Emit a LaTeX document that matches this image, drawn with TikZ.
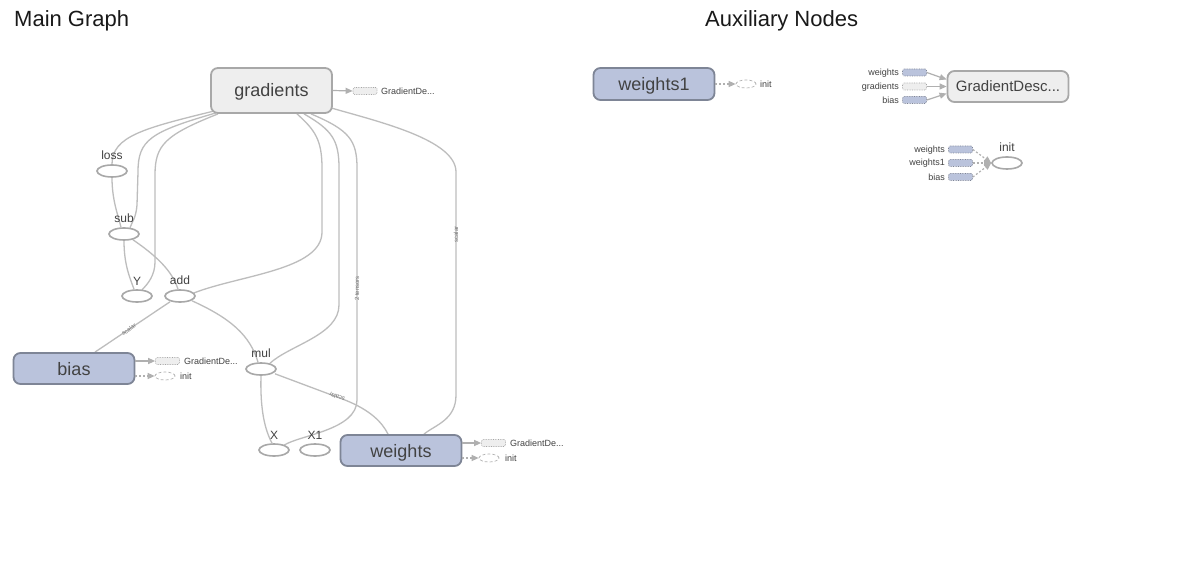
\documentclass[tikz,border=0pt]{standalone}
\usepackage{fontspec}
\setmainfont{Liberation Sans}
\usetikzlibrary{shapes.geometric,arrows.meta,calc,backgrounds}
\definecolor{bfill}{HTML}{BAC3DC}
\definecolor{bline}{HTML}{7E8596}
\definecolor{gfill}{HTML}{EEEEEE}
\definecolor{gline}{HTML}{A8A8A8}
\definecolor{eline}{HTML}{BDBDBD}
\definecolor{txt}{HTML}{424242}
\definecolor{sline}{HTML}{B0B0B0}
\tikzset{
  bignode/.style={rectangle, rounded corners=7pt, line width=1.8pt, text=txt,
    minimum width=121pt, inner sep=0pt, text height=13pt, text depth=0pt,
    font=\fontsize{18}{20}\selectfont},
  graynode/.style={bignode, fill=gfill, draw=gline},
  bluenode/.style={bignode, fill=bfill, draw=bline},
  opnode/.style={ellipse, draw=gline, fill=white, line width=1.6pt,
    minimum width=30pt, minimum height=12pt, inner sep=0pt},
  lbl/.style={text=txt, font=\fontsize{12}{14}\selectfont, inner sep=0pt},
  tiny/.style={text=txt, font=\fontsize{9}{10}\selectfont, inner sep=0pt},
  elbl/.style={text=black!55, font=\fontsize{6}{7}\selectfont, inner sep=0pt},
  edge/.style={draw=eline, line width=1.3pt},
  sbox/.style={rectangle, rounded corners=1.5pt, minimum width=24pt,
    minimum height=7pt, inner sep=0pt, line width=0.7pt, densely dotted},
  sbgray/.style={sbox, fill=gfill, draw=black!35},
  sbblue/.style={sbox, fill=bfill, draw=bline},
  sell/.style={ellipse, draw=black!30, fill=white, densely dashed,
    line width=0.7pt, minimum width=20pt, minimum height=8pt, inner sep=0pt},
  sarrow/.style={draw=sline, line width=1.2pt, -{Triangle[length=7pt,width=6pt]}},
  darrow/.style={draw=sline, line width=1.2pt, dash pattern=on 2pt off 2pt,
    -{Triangle[length=7pt,width=6pt]}},
}
\begin{document}
\begin{tikzpicture}[x=1pt,y=-1pt]
\useasboundingbox (0,0) rectangle (1185,569);

% titles
\node[anchor=base west, inner sep=0pt, text=black!90, font=\fontsize{22}{26}\selectfont] (t1) at (14,27) {Main Graph};
\node[anchor=base west, inner sep=0pt, text=black!90, font=\fontsize{22}{26}\selectfont] (t2) at (705,27) {Auxiliary Nodes};

% main nodes
\node[graynode, minimum height=45pt] (gradients) at (271.5,90.5) {gradients};
\node[bluenode, minimum height=31pt] (bias) at (74,368.5) {bias};
\node[bluenode, minimum height=31pt] (weights) at (401,450.5) {weights};

\node[opnode, label={[lbl,label distance=4pt]above:loss}] (loss) at (112,171) {};
\node[opnode, label={[lbl,label distance=4pt]above:sub}] (sub) at (124,234) {};
\node[opnode, label={[lbl,label distance=4pt]above:Y}] (Y) at (137,296) {};
\node[opnode, label={[lbl,label distance=4pt]above:add}] (add) at (180,296) {};
\node[opnode, label={[lbl,label distance=4pt]above:mul}] (mul) at (261,369) {};
\node[opnode, label={[lbl,label distance=4pt]above:X}] (X) at (274,450) {};
\node[opnode, label={[lbl,label distance=4pt]above:X1}] (X1) at (315,450) {};

\begin{scope}[on background layer]
\fill[white] (0,0) rectangle (1185,569);
% gradients edges
\draw[edge] ($(gradients.south)+(-57,-3)$) .. controls (145,128) and (112,136) .. (loss.north);
\draw[edge] ($(gradients.south)+(-55.5,-1)$) .. controls (150,132) and (138,140) .. (138,172)
  -- (137,205) .. controls (136,218) and (132,222) .. ($(sub.north)+(6,0.5)$);
\draw[edge] ($(gradients.south)+(-53.5,0)$) .. controls (165,135) and (155,145) .. (155,175)
  -- (155,262) .. controls (155,275) and (148,284) .. ($(Y.north)+(5,0.5)$);
\draw[edge] ($(gradients.south)+(25.5,0)$) .. controls (315,130) and (322,140) .. (322,168)
  -- (322,232) .. controls (322,270) and (240,275) .. ($(add.east)+(-2,-3)$);
\draw[edge] ($(gradients.south)+(32.5,0)$) .. controls (332,130) and (339,140) .. (339,168)
  -- (339,305) .. controls (339,335) and (290,345) .. ($(mul.north)+(9,1)$);
\draw[edge] ($(gradients.south)+(39.5,0)$) .. controls (349,130) and (357,140) .. (357,168)
  -- node[elbl, pos=0.52, rotate=90] {2 tensors} (357,400)
  .. controls (357,430) and (300,435) .. ($(X.north)+(10,2)$);
\draw[edge] ($(gradients.south east)+(-2,-6)$) .. controls (380,122) and (456,140) .. (456,172)
  -- node[elbl, pos=0.28, rotate=90] {scalar} (456,395)
  .. controls (456,420) and (435,425) .. ($(weights.north)+(23,0)$);
% op edges
\draw[edge] (loss.south) .. controls (112,200) and (118,215) .. ($(sub.north)+(-3,0)$);
\draw[edge] (sub.south) .. controls (124,265) and (130,278) .. ($(Y.north)+(-3,0)$);
\draw[edge] ($(sub.south)+(9,-1)$) .. controls (155,255) and (172,270) .. ($(add.north)+(-2,0)$);
\draw[edge] ($(add.south)+(-10,-1)$) -- node[elbl, pos=0.55, rotate=34] {scalar} ($(bias.north)+(21,0)$);
\draw[edge] ($(add.south)+(12,-2)$) .. controls (230,318) and (250,335) .. ($(mul.north)+(-3,0)$);
\draw[edge] (mul.south) .. controls (260,410) and (265,430) .. ($(X.north)+(-2,0)$);
\draw[edge] ($(mul.south)+(14,-2)$) -- (345,400) .. controls (370,410) and (382,422) .. ($(weights.north)+(-13,0)$);
\end{scope}
\node[elbl, rotate=160] (mullbl) at (337,397) {scalar};

% side items of gradients
\node[sbgray] (gd1) at (365,91) {};
\node[tiny, anchor=west] (gd1l) at (381,91.5) {GradientDe...};
\draw[sarrow] (gradients.east) -- (gd1.west);

% side items of bias
\node[sbgray] (bgd) at (167.5,361) {};
\node[tiny, anchor=west] (bgdl) at (184,361.5) {GradientDe...};
\node[sell] (binit) at (165,376) {};
\node[tiny, anchor=west] (binitl) at (180,376.5) {init};
\draw[sarrow] ($(bias.east)+(0,-7.5)$) -- (bgd.west);
\draw[darrow] ($(bias.east)+(0,7.5)$) -- (binit.west);

% side items of weights
\node[sbgray] (wgd) at (493.5,443) {};
\node[tiny, anchor=west] (wgdl) at (510,443.5) {GradientDe...};
\node[sell] (winit) at (489,458) {};
\node[tiny, anchor=west] (winitl) at (505,458.5) {init};
\draw[sarrow] ($(weights.east)+(0,-7.5)$) -- (wgd.west);
\draw[darrow] ($(weights.east)+(0,7.5)$) -- (winit.west);

% auxiliary: weights1
\node[bluenode, minimum height=32pt] (weights1) at (654,84) {weights1};
\node[sell] (w1init) at (746,84) {};
\node[tiny, anchor=west] (w1initl) at (760,84.5) {init};
\draw[darrow] (weights1.east) -- (w1init.west);

% auxiliary: GradientDescent
\node[graynode, minimum height=31pt, text height=11pt, font=\fontsize{15}{17}\selectfont] (gdesc) at (1008,86.5) {GradientDesc...};
\node[sbblue] (aw) at (914.5,72.5) {};
\node[sbgray] (ag) at (914.5,86.5) {};
\node[sbblue] (ab) at (914.5,100) {};
\node[tiny, anchor=east] (awl) at (899,73) {weights};
\node[tiny, anchor=east] (agl) at (899,87) {gradients};
\node[tiny, anchor=east] (abl) at (899,100.5) {bias};
\draw[sarrow] (aw.east) -- ($(gdesc.west)+(0,-7)$);
\draw[sarrow] (ag.east) -- (gdesc.west);
\draw[sarrow] (ab.east) -- ($(gdesc.west)+(0,7)$);

% auxiliary: init
\node[opnode, label={[lbl,label distance=4pt]above:init}] (ainit) at (1007,163) {};
\node[sbblue] (iw) at (960.5,149.5) {};
\node[sbblue] (iw1) at (960.5,163) {};
\node[sbblue] (ib) at (960.5,177) {};
\node[tiny, anchor=east] (iwl) at (945,150) {weights};
\node[tiny, anchor=east] (iw1l) at (945,163.5) {weights1};
\node[tiny, anchor=east] (ibl) at (945,177.5) {bias};
\draw[darrow] (iw.east) -- (ainit.west);
\draw[darrow] (iw1.east) -- (ainit.west);
\draw[darrow] (ib.east) -- (ainit.west);
\end{tikzpicture}
\end{document}
